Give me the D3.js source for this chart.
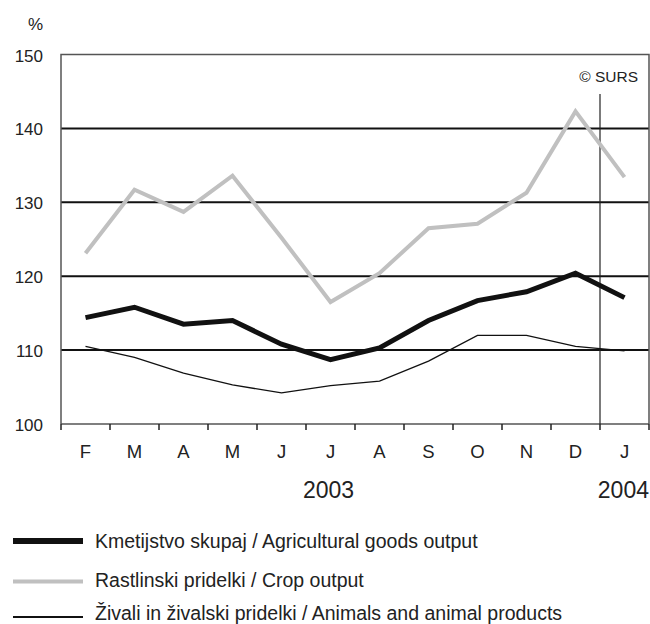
<!DOCTYPE html>
<html>
<head>
<meta charset="utf-8">
<script src="https://cdn.jsdelivr.net/npm/d3@7"></script>
<style>
body { margin: 0; background: #fff; }
svg { font-family: "Liberation Sans", Arial, sans-serif; }
</style>
</head>
<body>
<svg width="650" height="624"></svg>
<script>
var months = ["F", "M", "A", "M", "J", "J", "A", "S", "O", "N", "D", "J"];
var total = [114.4, 115.8, 113.5, 114.0, 110.8, 108.7, 110.3, 114.0, 116.7, 117.9, 120.4, 117.1];
var crop = [123.1, 131.7, 128.7, 133.6, 125.2, 116.5, 120.4, 126.5, 127.1, 131.3, 142.3, 133.4];
var animals = [110.5, 109.0, 106.9, 105.3, 104.2, 105.2, 105.8, 108.5, 112.0, 112.0, 110.5, 109.9];
var yTicks = [100, 110, 120, 130, 140, 150];
var legendLabels = ["Kmetijstvo skupaj / Agricultural goods output",
	"Rastlinski pridelki / Crop output",
	"Živali in živalski pridelki / Animals and animal products"];

function drawChart(){
	var svg = d3.select("svg");
	var plot = {"left": 61, "right": 649, "top": 54.5, "bottom": 424};

	var x = d3.scaleBand().domain(d3.range(months.length)).range([plot.left, plot.right]);
	var y = d3.scaleLinear().domain([100, 150]).range([plot.bottom, plot.top]);
	var mid = function(i){ return x(i) + x.bandwidth() / 2; };

	// grid lines
	svg.selectAll(".grid")
		.data(yTicks.filter(function(d){ return d > 100 && d < 150; }))
		.enter().append("line")
		.attr("x1", plot.left).attr("x2", plot.right)
		.attr("y1", function(d){ return y(d); })
		.attr("y2", function(d){ return y(d); })
		.attr("stroke", "#111")
		.attr("stroke-width", 2);

	// frame
	svg.append("path")
		.attr("d", "M" + plot.left + "," + plot.bottom + "V" + plot.top + "H" + plot.right + "V" + plot.bottom)
		.attr("fill", "none")
		.attr("stroke", "#555")
		.attr("stroke-width", 1.5);

	// x axis
	var xAxis = svg.append("g")
		.attr("transform", "translate(0," + plot.bottom + ")");
	xAxis.append("line")
		.attr("x1", plot.left).attr("x2", plot.right)
		.attr("stroke", "#555").attr("stroke-width", 1.5);
	var boundaries = d3.range(months.length + 1).map(function(i){ return plot.left + i * x.bandwidth(); });
	xAxis.selectAll(".tick")
		.data(boundaries)
		.enter().append("line")
		.attr("x1", function(d){ return d; })
		.attr("x2", function(d){ return d; })
		.attr("y1", 0).attr("y2", 6)
		.attr("stroke", "#222").attr("stroke-width", 1.5);
	xAxis.selectAll(".mlabel")
		.data(months)
		.enter().append("text")
		.attr("x", function(d, i){ return mid(i); })
		.attr("y", 34)
		.attr("text-anchor", "middle")
		.attr("font-size", 18.5)
		.attr("fill", "#222")
		.text(function(d){ return d; });

	// year labels
	svg.append("text").attr("x", mid(5) - 2).attr("y", 498)
		.attr("text-anchor", "middle").attr("font-size", 23).attr("fill", "#222").text("2003");
	svg.append("text").attr("x", plot.right).attr("y", 498)
		.attr("text-anchor", "end").attr("font-size", 23).attr("fill", "#222").text("2004");

	// y labels
	svg.selectAll(".ylabel")
		.data(yTicks)
		.enter().append("text")
		.attr("x", 43)
		.attr("y", function(d){ return y(d) + 7; })
		.attr("text-anchor", "end")
		.attr("font-size", 17)
		.attr("fill", "#222")
		.text(function(d){ return d; });
	svg.append("text").attr("x", 43).attr("y", 30)
		.attr("text-anchor", "end").attr("font-size", 17).attr("fill", "#222").text("%");

	// year separator
	svg.append("line")
		.attr("x1", x(11)).attr("x2", x(11))
		.attr("y1", 94).attr("y2", plot.bottom)
		.attr("stroke", "#222").attr("stroke-width", 1.2);

	svg.append("text").attr("x", 638).attr("y", 82)
		.attr("text-anchor", "end").attr("font-size", 15.5).attr("fill", "#222").text("© SURS");

	// series
	var series = [
		{values: crop, color: "#c0c0c0", width: 4},
		{values: animals, color: "#111", width: 1.3},
		{values: total, color: "#111", width: 5}
	];
	var line = d3.line()
		.x(function(d, i){ return mid(i); })
		.y(function(d){ return y(d); });
	svg.selectAll(".series")
		.data(series)
		.enter().append("path")
		.attr("d", function(d){ return line(d.values); })
		.attr("fill", "none")
		.attr("stroke", function(d){ return d.color; })
		.attr("stroke-width", function(d){ return d.width; })
		.attr("stroke-linejoin", "miter");

	// legend
	var legendStyle = [{color: "#111", width: 6}, {color: "#c0c0c0", width: 4}, {color: "#111", width: 2}];
	var legendY = [541, 581.5, 617];
	var legend = svg.selectAll(".legend")
		.data(legendLabels)
		.enter().append("g")
		.attr("transform", function(d, i){ return "translate(0," + legendY[i] + ")"; });
	legend.append("line")
		.attr("x1", 13).attr("x2", 83)
		.attr("stroke", function(d, i){ return legendStyle[i].color; })
		.attr("stroke-width", function(d, i){ return legendStyle[i].width; });
	legend.append("text")
		.attr("x", 95).attr("y", function(d, i){ return [6.5, 5, 2.5][i]; })
		.attr("font-size", 19.5)
		.attr("fill", "#222")
		.text(function(d){ return d; });
}

drawChart();
</script>
</body>
</html>
